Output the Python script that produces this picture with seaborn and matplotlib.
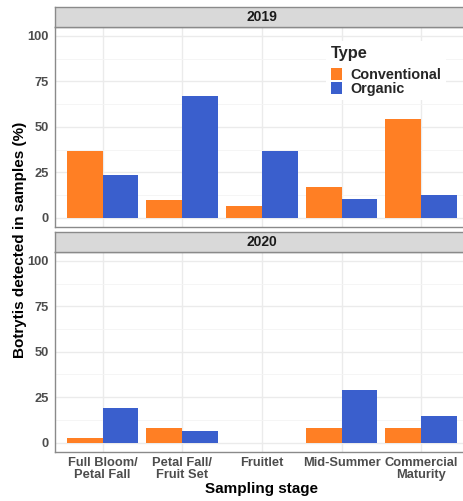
import matplotlib
matplotlib.use("Agg")
import matplotlib.pyplot as plt
import seaborn as sns
import pandas as pd

# Sampling stages and detection rates (% of samples with Botrytis)
stages = ["Full Bloom/\nPetal Fall", "Petal Fall/\nFruit Set", "Fruitlet",
          "Mid-Summer", "Commercial\nMaturity"]
types = ["Conventional", "Organic"]
years = ["2019", "2020"]

conv_2019 = [36.7, 10.0, 6.7, 16.7, 54.5]
org_2019 = [23.7, 66.7, 36.7, 10.5, 12.7]
conv_2020 = [2.8, 8.3, 0.0, 8.3, 8.3]
org_2020 = [18.8, 6.2, 0.0, 29.2, 14.7]

palette = {"Conventional": "#FF7F24", "Organic": "#3A5FCD"}

rows = []
for year, conv, org in [("2019", conv_2019, org_2019), ("2020", conv_2020, org_2020)]:
    for st, c, o in zip(stages, conv, org):
        rows.append({"Year": year, "Stage": st, "Type": "Conventional", "Pct": c})
        rows.append({"Year": year, "Stage": st, "Type": "Organic", "Pct": o})
df = pd.DataFrame(rows)

sns.set_style("white")
plt.rcParams["font.family"] = ["Liberation Sans", "DejaVu Sans"]
plt.rcParams["font.weight"] = "bold"

W, H = 464, 501
fig = plt.figure(figsize=(W / 100, H / 100), dpi=100)


def rect(l, t, r, b):
    return [l / W, 1 - b / H, (r - l) / W, (b - t) / H]


border = "#8A8A8A"
tick_col = "#4D4D4D"

panel_rects = [rect(54.7, 26.7, 469, 227), rect(54.7, 251.7, 469, 451.7)]
strip_rects = [rect(54.7, 6.7, 469, 26.7), rect(54.7, 231.7, 469, 251.7)]

axes = []
for i, year in enumerate(years):
    ax = fig.add_axes(panel_rects[i])
    sub = df[df["Year"] == year]
    sns.barplot(data=sub, x="Stage", y="Pct", hue="Type", order=stages,
                hue_order=types, palette=palette, width=0.9, saturation=1,
                errorbar=None, linewidth=0, ax=ax, legend=(i == 0))
    ax.set_xlim(-0.6, 4.6)
    ax.set_ylim(-5, 105)
    ax.set_yticks([0, 25, 50, 75, 100])
    ax.set_yticks([12.5, 37.5, 62.5, 87.5], minor=True)
    ax.set_axisbelow(True)
    ax.grid(True, which="major", color="#EBEBEB", linewidth=1.0)
    ax.grid(True, which="minor", axis="y", color="#F4F4F4", linewidth=0.6)
    for sp in ax.spines.values():
        sp.set_color(border)
        sp.set_linewidth(1.0)
    ax.tick_params(axis="y", which="major", length=2.5, width=0.8, color="#333333",
                   labelsize=9.3, labelcolor=tick_col, pad=2)
    ax.tick_params(axis="y", which="minor", length=0)
    ax.set_xlabel("")
    ax.set_ylabel("")
    if i == 0:
        ax.tick_params(axis="x", length=0, labelbottom=False)
    else:
        ax.tick_params(axis="x", length=2.5, width=0.8, color="#333333",
                       labelsize=9.3, labelcolor=tick_col, pad=1)
        for lab in ax.get_xticklabels():
            lab.set_fontweight("bold")
            lab.set_linespacing(1.1)
    for lab in ax.get_yticklabels():
        lab.set_fontweight("bold")
    axes.append(ax)

    # facet strip
    sax = fig.add_axes(strip_rects[i])
    sax.set_facecolor("#D9D9D9")
    sax.set_xticks([])
    sax.set_yticks([])
    for sp in sax.spines.values():
        sp.set_color(border)
        sp.set_linewidth(1.0)
    sax.text(0.5, 0.5, year, transform=sax.transAxes, ha="center", va="center",
             fontsize=10, fontweight="bold", color="#1A1A1A")

# legend inside the top panel
ax1 = axes[0]
handles, labels = ax1.get_legend_handles_labels()
ax1.get_legend().remove()
leg = ax1.legend(handles, labels, title="Type", loc="upper left",
                 bbox_to_anchor=(319 / W, 1 - 34 / H), bbox_transform=fig.transFigure,
                 frameon=True, facecolor="white", edgecolor="none", framealpha=1,
                 fancybox=False, borderpad=0.3, handlelength=0.78, handleheight=0.92,
                 handletextpad=0.6, labelspacing=0.0, alignment="left",
                 prop={"size": 10.4, "weight": "bold"},
                 title_fontproperties={"size": 11.8, "weight": "bold"})
leg._legend_box.sep = 5

fig.text(20 / W, 1 - 239.5 / H, "Botrytis detected in samples (%)", rotation=90,
         ha="center", va="center", fontsize=11, fontweight="bold", color="black")
fig.text(261.9 / W, 1 - 489 / H, "Sampling stage", ha="center", va="center",
         fontsize=11, fontweight="bold", color="black")

fig.savefig("out.png", dpi=100)
